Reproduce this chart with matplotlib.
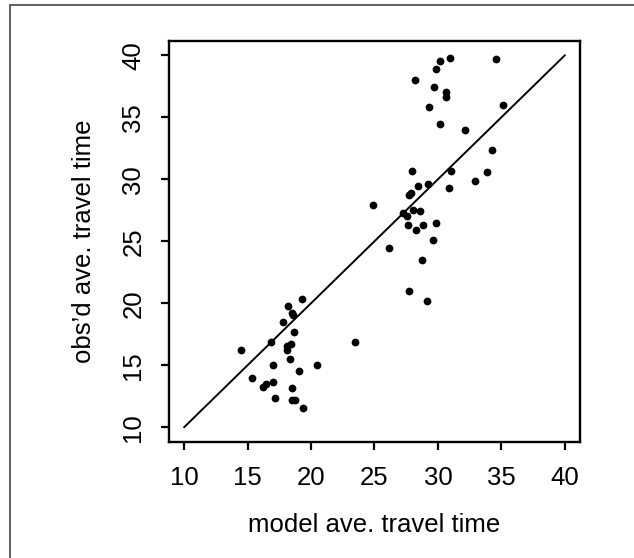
import matplotlib
matplotlib.use("Agg")
import matplotlib.pyplot as plt
from matplotlib.patches import Rectangle

# model vs observed average travel time
model_time = [14.46, 15.38, 16.19, 16.43, 17.01, 16.88, 17.03, 17.17, 17.80, 18.16,
              18.08, 18.14, 18.45, 18.35, 18.50, 18.60, 18.69, 18.50, 18.50, 18.71,
              19.08, 19.37, 19.32, 20.47, 23.46, 24.88, 26.14, 27.24, 27.53, 27.61,
              27.74, 27.74, 27.90, 27.98, 28.03, 28.24, 28.19, 28.45, 28.58, 28.74,
              28.82, 29.16, 29.19, 29.32, 29.63, 29.66, 29.84, 29.87, 30.13, 30.16,
              30.66, 30.66, 30.84, 30.92, 31.02, 32.15, 32.89, 33.83, 34.25, 34.57,
              35.12]
obs_time = [16.20, 13.94, 13.26, 13.45, 13.61, 16.85, 14.99, 12.32, 18.46, 19.76,
            16.52, 16.20, 16.68, 15.53, 19.25, 19.03, 17.71, 13.13, 12.16, 12.16,
            14.50, 11.51, 20.32, 14.99, 16.85, 27.92, 24.45, 27.25, 27.03, 26.31,
            20.97, 28.73, 28.87, 30.65, 27.55, 25.93, 38.03, 29.46, 27.41, 23.48,
            26.31, 20.16, 29.60, 35.85, 25.09, 37.47, 38.89, 26.47, 39.57, 34.45,
            37.03, 36.66, 29.30, 39.78, 30.65, 33.99, 29.84, 30.57, 32.37, 39.70,
            35.98]
ref_line = [10, 40]
ticks = [10, 15, 20, 25, 30, 35, 40]

plt.rcParams['font.family'] = ['Liberation Sans', 'DejaVu Sans']

fig = plt.figure(figsize=(6.34, 5.58), dpi=100)
W, H = 634, 558

# outer frame (cut off at right / bottom edges)
fig.patches.append(Rectangle((10 / W, -0.1), 1.2, (H - 5) / H + 0.1,
                             transform=fig.transFigure, fill=False,
                             edgecolor='#444444', linewidth=1.2))

ax = fig.add_axes([169 / W, 116 / H, 411 / W, 401.5 / H])
ax.plot(model_time, obs_time, 'o', color='black', ms=5.6, mew=0)
ax.plot(ref_line, ref_line, color='black', lw=1.4)

ax.set_xlim(8.8, 41.2)
ax.set_ylim(8.8, 41.2)
ax.set_xticks(ticks)
ax.set_yticks(ticks)
for s in ax.spines.values():
    s.set_linewidth(1.7)
ax.tick_params(length=6, width=1.6, labelsize=18.5, pad=11)
plt.setp(ax.get_yticklabels(), rotation=90, va='center')

ax.set_xlabel('model ave. travel time', fontsize=18.5, va='center')
ax.set_ylabel('obs\u2019d ave. travel time', fontsize=18.5, va='center')
ax.xaxis.set_label_coords(0.5, -0.207)
ax.yaxis.set_label_coords(-0.207, 0.5)

fig.savefig('out.png', dpi=100)
